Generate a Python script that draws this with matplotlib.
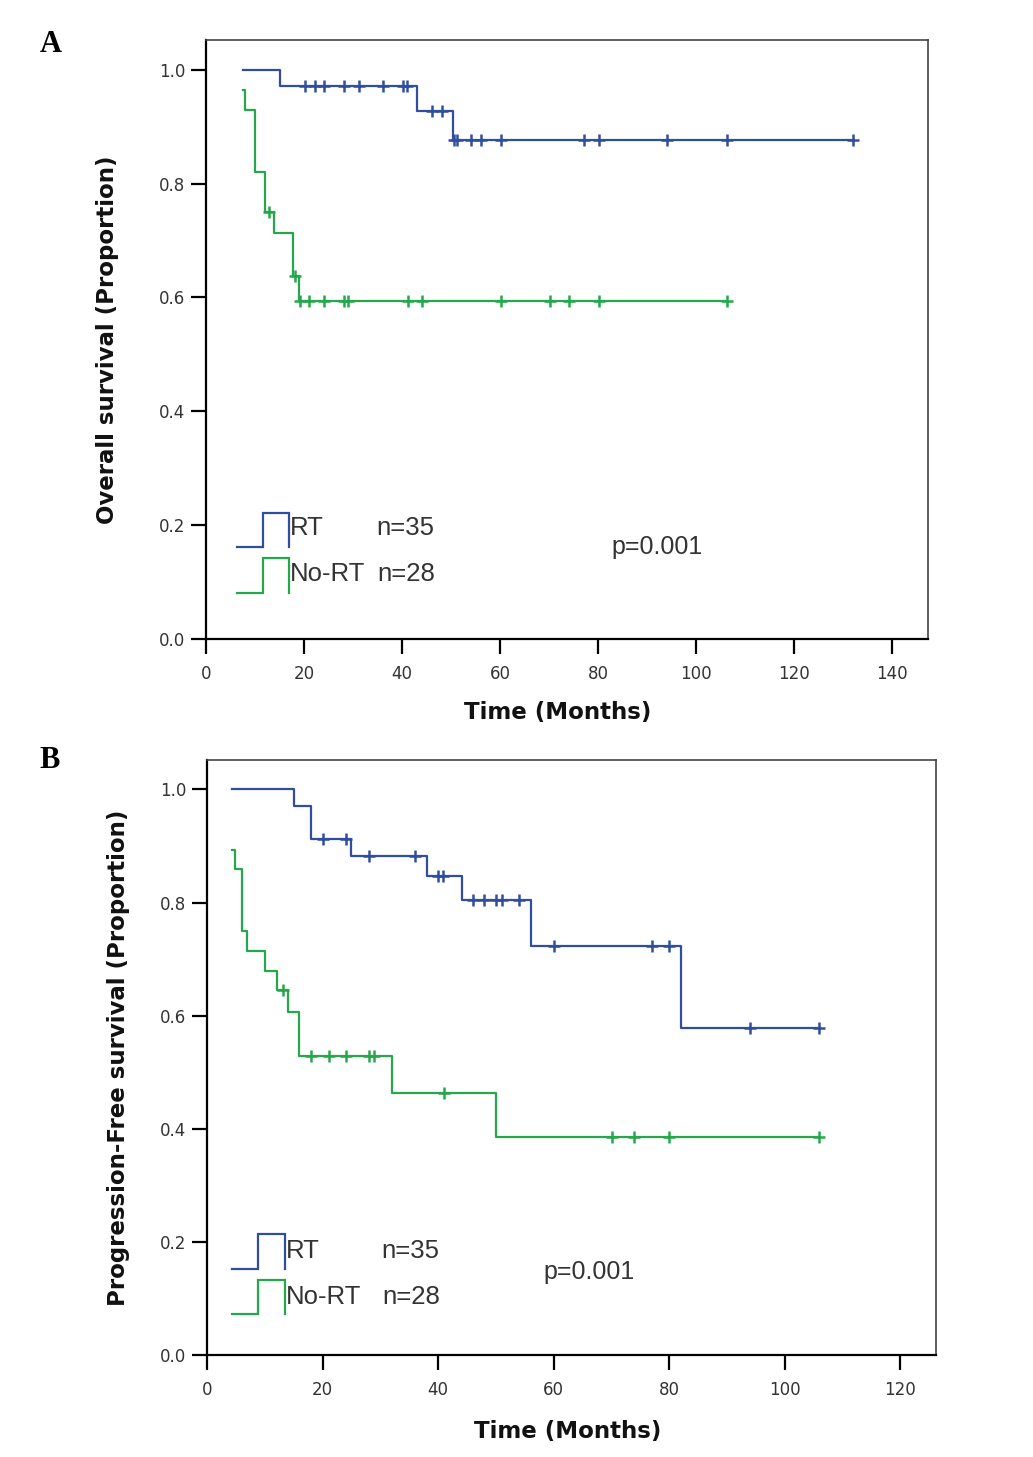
import numpy as np
import matplotlib
matplotlib.use('Agg')
import matplotlib.pyplot as plt

# ---- data ----
# panel A: overall survival
a_rt_t = [7.5, 15.1, 43.1, 50.3, 132.0]
a_rt_s = [1.0, 0.971, 0.927, 0.876, 0.876]
a_rt_cens = [20.2, 22.2, 24.1, 28.2, 31.2, 36.1, 40.2, 41.0, 46.2, 48.1,
             50.6, 51.2, 54.1, 56.1, 60.1, 77.1, 80.1, 94.1, 106.3, 132.0]
a_no_t = [7.5, 7.9, 10.0, 12.0, 13.9, 17.8, 18.9, 106.3]
a_no_s = [0.965, 0.929, 0.821, 0.750, 0.714, 0.638, 0.593, 0.593]
a_no_cens = [12.9, 18.2, 19.2, 21.1, 24.1, 28.2, 29.0, 41.2, 44.0,
             60.1, 70.1, 74.0, 80.1, 106.3]

# panel B: progression-free survival
b_rt_t = [4.3, 15.1, 18.0, 25.0, 38.0, 44.1, 56.1, 82.0, 106.0]
b_rt_s = [1.0, 0.971, 0.913, 0.882, 0.846, 0.804, 0.723, 0.579, 0.579]
b_rt_cens = [20.0, 24.1, 28.1, 36.0, 40.0, 40.9, 46.0, 48.0, 50.0, 51.0,
             54.0, 60.1, 77.0, 80.0, 94.0, 106.0]
b_no_t = [4.4, 4.9, 6.1, 7.0, 10.0, 12.2, 14.1, 16.0, 32.0, 50.0, 106.0]
b_no_s = [0.892, 0.859, 0.750, 0.714, 0.679, 0.645, 0.606, 0.529, 0.464, 0.386, 0.386]
b_no_cens = [13.1, 18.0, 21.2, 24.1, 28.1, 28.9, 41.1, 70.1, 74.0, 80.0, 106.0]

blue = '#2f4f9e'
green = '#25a84c'
txt = '#333333'

def surv_at(t, s, x):
    idx = np.searchsorted(t, x, side='right') - 1
    return np.array(s)[np.clip(idx, 0, len(s) - 1)]

def km(ax, t, s, cens, col):
    ax.step(t, s, where='post', color=col, lw=1.6, zorder=3)
    ax.plot(cens, surv_at(t, s, cens), ls='none', marker='+', ms=9,
            mew=1.8, color=col, zorder=4)

def legend_icon(ax, x0, x1, x2, ylo, yhi, col):
    ax.plot([x0, x1, x1, x2, x2], [ylo, ylo, yhi, yhi, ylo], color=col, lw=1.6,
            solid_joinstyle='miter', clip_on=False)

def style(ax, xmax, xticks):
    ax.set_xlim(0, xmax)
    ax.set_ylim(0, 1.052)
    ax.set_xticks(xticks)
    ax.set_yticks([0.0, 0.2, 0.4, 0.6, 0.8, 1.0])
    ax.set_yticklabels(['0.0', '0.2', '0.4', '0.6', '0.8', '1.0'])
    ax.tick_params(direction='out', length=11, width=1.6, labelsize=12,
                   labelcolor=txt, color='black')
    ax.tick_params(axis='x', pad=8)
    ax.tick_params(axis='y', pad=4)
    for sp in ['left', 'bottom']:
        ax.spines[sp].set_linewidth(1.6)
        ax.spines[sp].set_color('black')
    for sp in ['top', 'right']:
        ax.spines[sp].set_linewidth(1.2)
        ax.spines[sp].set_color('#444444')

plt.rcParams['font.family'] = ['DejaVu Sans']

fig = plt.figure(figsize=(10.33, 14.57), dpi=100)
axA = fig.add_axes([0.1994, 0.5614, 0.699, 0.4111])
axB = fig.add_axes([0.2004, 0.0700, 0.7057, 0.4084])

lf = dict(fontsize=18.5, family='Liberation Sans', color=txt, va='center')
pf = dict(fontsize=18, family='Liberation Sans', color=txt, va='center')

# panel A
km(axA, a_rt_t, a_rt_s, a_rt_cens, blue)
km(axA, a_no_t, a_no_s, a_no_cens, green)
style(axA, 147.3, [0, 20, 40, 60, 80, 100, 120, 140])
axA.set_xlabel('Time (Months)', fontsize=16.5, fontweight='bold', color='#111111', va='center')
axA.xaxis.set_label_coords(0.4875, -0.122)
axA.set_ylabel('Overall survival (Proportion)', fontsize=16.5, fontweight='bold', color='#111111', va='center')
axA.yaxis.set_label_coords(-0.137, 0.5)
legend_icon(axA, 6.3, 11.6, 17.0, 0.162, 0.222, blue)
legend_icon(axA, 6.3, 11.6, 17.0, 0.080, 0.142, green)
axA.text(17.1, 0.195, 'RT', **lf)
axA.text(34.7, 0.195, 'n=35', **lf)
axA.text(17.1, 0.114, 'No-RT', **lf)
axA.text(34.9, 0.114, 'n=28', **lf)
axA.text(82.7, 0.162, 'p=0.001', **pf)

# panel B
km(axB, b_rt_t, b_rt_s, b_rt_cens, blue)
km(axB, b_no_t, b_no_s, b_no_cens, green)
style(axB, 126.2, [0, 20, 40, 60, 80, 100, 120])
axB.set_xlabel('Time (Months)', fontsize=16.5, fontweight='bold', color='#111111', va='center')
axB.xaxis.set_label_coords(0.495, -0.129)
axB.set_ylabel('Progression-Free survival (Proportion)', fontsize=16.5, fontweight='bold', color='#111111', va='center')
axB.yaxis.set_label_coords(-0.122, 0.5)
legend_icon(axB, 4.3, 8.8, 13.5, 0.152, 0.214, blue)
legend_icon(axB, 4.3, 8.8, 13.5, 0.072, 0.133, green)
axB.text(13.7, 0.184, 'RT', **lf)
axB.text(30.1, 0.184, 'n=35', **lf)
axB.text(13.7, 0.102, 'No-RT', **lf)
axB.text(30.3, 0.102, 'n=28', **lf)
axB.text(58.2, 0.147, 'p=0.001', **pf)

# panel letters
fig.text(51 / 1033, 1 - 45 / 1457, 'A', fontsize=22, fontweight='bold',
         family='Liberation Serif', ha='center', va='center')
fig.text(50 / 1033, 1 - 760 / 1457, 'B', fontsize=22, fontweight='bold',
         family='Liberation Serif', ha='center', va='center')

fig.savefig('out.png', dpi=100)
